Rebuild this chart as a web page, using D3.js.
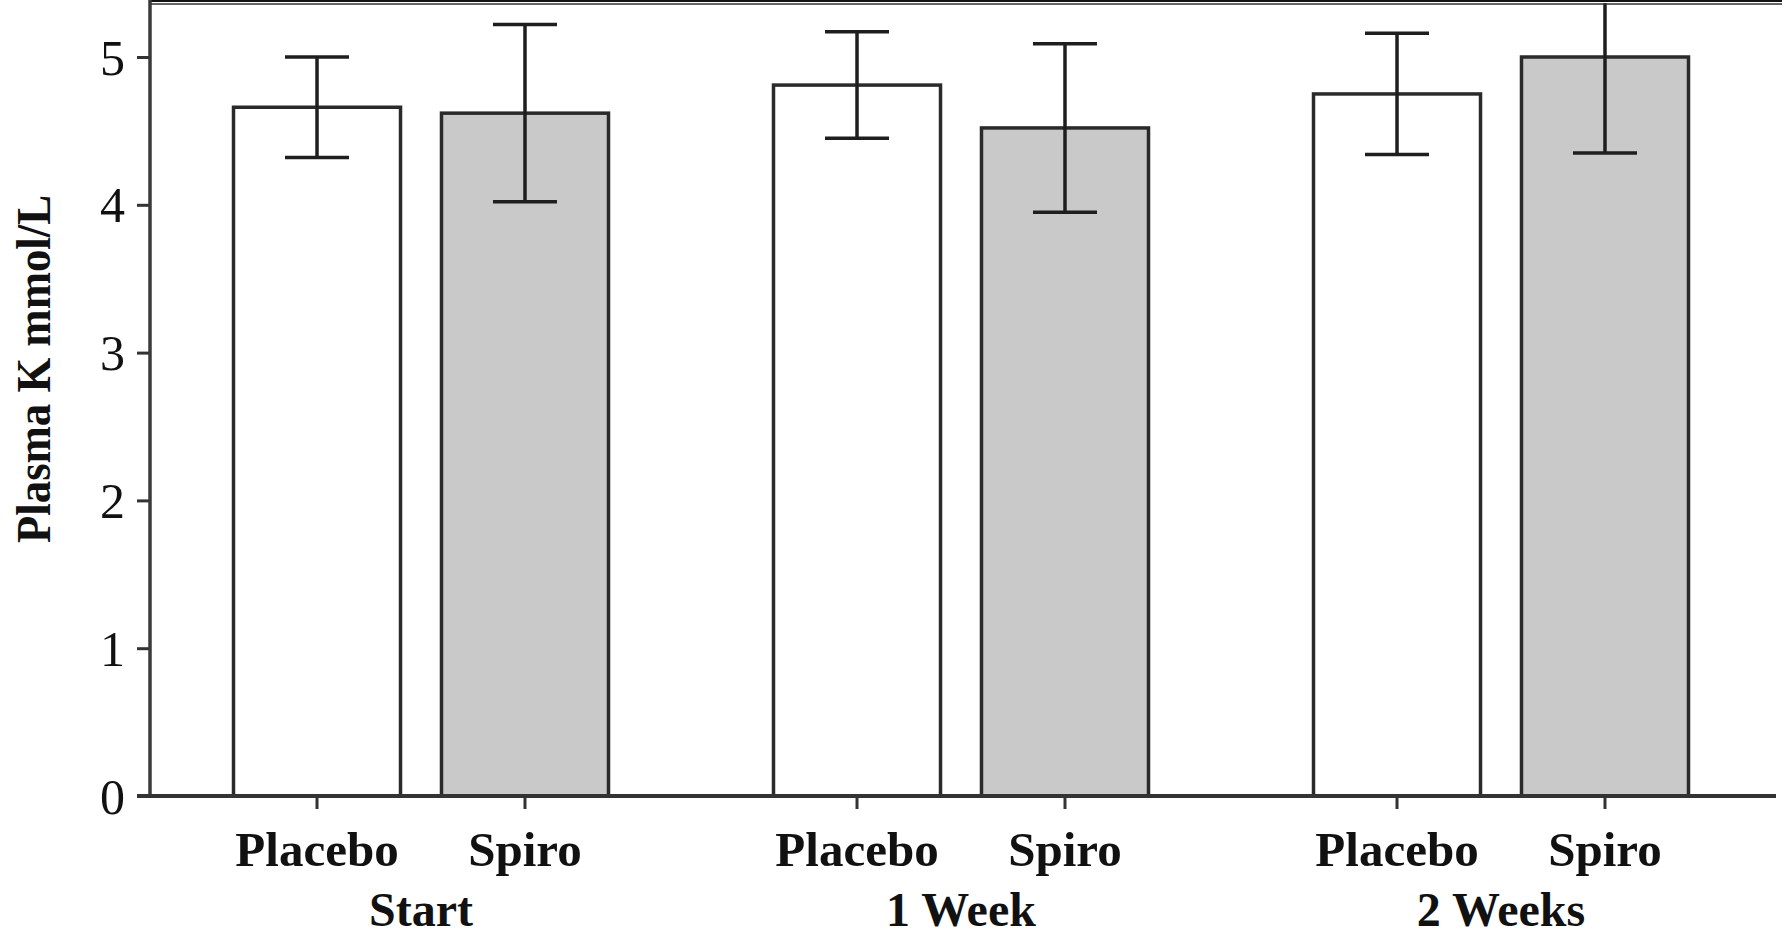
<!DOCTYPE html>
<html>
<head>
<meta charset="utf-8">
<script src="https://cdn.jsdelivr.net/npm/d3@7"></script>
<style>
  html, body { margin: 0; padding: 0; background: #ffffff; }
  svg { display: block; }
  text { font-family: "Liberation Serif", "Times New Roman", serif; fill: #111; }
</style>
</head>
<body>
<svg id="chart" width="1782" height="938"></svg>
<script>
// Plasma potassium (mmol/L), mean ± SE, by time point and treatment
const timepoints = ["Start", "1 Week", "2 Weeks"];
const treatments = ["Placebo", "Spiro"];
const placeboMean = [4.66, 4.81, 4.75];
const placeboSE   = [0.34, 0.36, 0.41];
const spiroMean   = [4.62, 4.52, 5.00];
const spiroSE     = [0.60, 0.57, 0.65];
const yTicks      = [0, 1, 2, 3, 4, 5];

const rows = [];
timepoints.forEach((t, i) => {
  rows.push({ time: t, treat: "Placebo", mean: placeboMean[i], se: placeboSE[i] });
  rows.push({ time: t, treat: "Spiro",   mean: spiroMean[i],   se: spiroSE[i] });
});

const fills = { Placebo: "#ffffff", Spiro: "#c9c9c9" };

const svg = d3.select("#chart");
const W = 1782, H = 938;
const axisX = 150, baseY = 796;

const y = d3.scaleLinear().domain([0, 5]).range([baseY, 57]);
const x0 = d3.scaleBand().domain(timepoints).range([151, 1771]).paddingInner(0).paddingOuter(0);
const x1 = d3.scaleBand().domain(treatments).range([82.5, 457.5]).paddingInner(0.197).paddingOuter(0);

// clip everything to the plotting frame
svg.append("defs").append("clipPath").attr("id", "plot")
  .append("rect").attr("x", axisX).attr("y", 3).attr("width", W - axisX).attr("height", baseY - 3);

const plot = svg.append("g").attr("clip-path", "url(#plot)");

// bars
plot.selectAll("rect.bar").data(rows).join("rect")
  .attr("class", "bar")
  .attr("x", d => x0(d.time) + x1(d.treat))
  .attr("y", d => y(d.mean))
  .attr("width", x1.bandwidth())
  .attr("height", d => y(0) - y(d.mean))
  .attr("fill", d => fills[d.treat])
  .attr("stroke", "#2a2a2a")
  .attr("stroke-width", 3.5);

// error bars
const cx = d => x0(d.time) + x1(d.treat) + x1.bandwidth() / 2;
const capW = 32;
const eb = plot.selectAll("g.err").data(rows).join("g").attr("class", "err")
  .attr("stroke", "#1e1e1e").attr("stroke-width", 3.5);
eb.append("line")
  .attr("x1", cx).attr("x2", cx)
  .attr("y1", d => y(d.mean + d.se)).attr("y2", d => y(d.mean - d.se));
eb.append("line")
  .attr("x1", d => cx(d) - capW).attr("x2", d => cx(d) + capW)
  .attr("y1", d => y(d.mean + d.se)).attr("y2", d => y(d.mean + d.se));
eb.append("line")
  .attr("x1", d => cx(d) - capW).attr("x2", d => cx(d) + capW)
  .attr("y1", d => y(d.mean - d.se)).attr("y2", d => y(d.mean - d.se));

// top frame line
svg.append("line")
  .attr("x1", axisX - 1).attr("x2", W).attr("y1", 1).attr("y2", 1)
  .attr("stroke", "#111").attr("stroke-width", 2);
svg.append("line")
  .attr("x1", axisX - 1).attr("x2", W).attr("y1", 4).attr("y2", 4)
  .attr("stroke", "#333").attr("stroke-width", 1.5);

// y axis
const yAxis = d3.axisLeft(y).tickValues(yTicks).tickSize(13).tickSizeOuter(0).tickPadding(12)
  .tickFormat(d3.format("d"));
const gy = svg.append("g").attr("transform", `translate(${axisX},0)`).call(yAxis);
gy.select(".domain").remove();
gy.selectAll(".tick line").attr("stroke", "#333").attr("stroke-width", 3);
gy.selectAll(".tick text")
  .attr("font-family", "Liberation Serif, serif")
  .attr("font-size", 50).attr("fill", "#111").attr("dy", "0.34em");
svg.append("line")
  .attr("x1", axisX).attr("x2", axisX).attr("y1", 0).attr("y2", baseY + 1)
  .attr("stroke", "#3a3a3a").attr("stroke-width", 3.5);

// x axis with ticks at each bar
const tickXs = rows.map(cx);
svg.append("line")
  .attr("x1", axisX - 13).attr("x2", 1776).attr("y1", baseY).attr("y2", baseY)
  .attr("stroke", "#333").attr("stroke-width", 4);
svg.selectAll("line.xt").data(tickXs).join("line").attr("class", "xt")
  .attr("x1", d => d).attr("x2", d => d)
  .attr("y1", baseY).attr("y2", baseY + 13)
  .attr("stroke", "#333").attr("stroke-width", 3);

// treatment labels
svg.selectAll("text.treat").data(rows).join("text").attr("class", "treat")
  .attr("x", cx).attr("y", 866)
  .attr("text-anchor", "middle")
  .attr("font-size", 49).attr("font-weight", "bold")
  .text(d => d.treat);

// time point labels
svg.selectAll("text.time").data(timepoints).join("text").attr("class", "time")
  .attr("x", d => x0(d) + x0.bandwidth() / 2).attr("y", 926)
  .attr("text-anchor", "middle")
  .attr("font-size", 48).attr("font-weight", "bold")
  .text(d => d);

// y axis title
svg.append("text")
  .attr("transform", "translate(50,369) rotate(-90)")
  .attr("text-anchor", "middle")
  .attr("font-size", 48).attr("font-weight", "bold")
  .attr("textLength", 348).attr("lengthAdjust", "spacingAndGlyphs")
  .text("Plasma K mmol/L");
</script>
</body>
</html>
